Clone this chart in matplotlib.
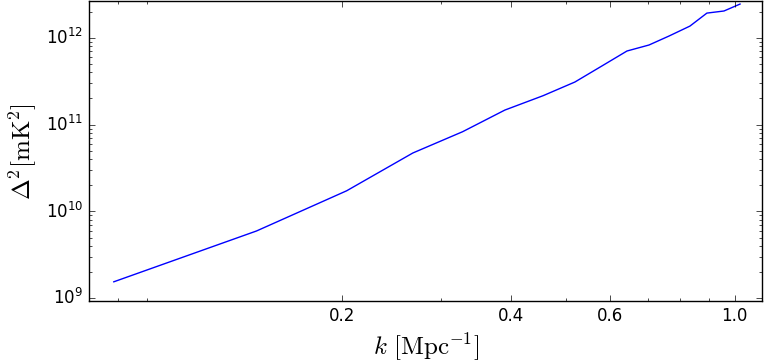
import numpy as np
import matplotlib
matplotlib.use("Agg")
import matplotlib.pyplot as plt
from matplotlib.ticker import NullFormatter

plt.style.use("classic")

# power spectrum
k = [0.0786, 0.141, 0.204, 0.2675, 0.328, 0.390, 0.456, 0.5195, 0.580,
     0.643, 0.7036, 0.7637, 0.832, 0.892, 0.9566, 1.0217]
delta2 = [1.55e9, 5.96e9, 1.73e10, 4.71e10, 8.28e10, 1.47e11, 2.15e11,
          3.09e11, 4.72e11, 7.03e11, 8.24e11, 1.045e12, 1.36e12, 1.92e12,
          2.03e12, 2.44e12]

xticks = [0.2, 0.4, 0.6, 1.0]
xticklabels = ["0.2", "0.4", "0.6", "1.0"]

fig = plt.figure(figsize=(7.65, 3.61), dpi=100, facecolor="w")
ax = fig.add_axes([0.1163, 0.166, 0.8804, 0.831])

ax.plot(k, delta2, color="b", lw=1)
ax.set_xscale("log")
ax.set_yscale("log")
ax.set_xlim(0.0710, 1.12)
ax.set_ylim(9.3e8, 2.64e12)

ax.set_xticks(xticks)
ax.set_xticklabels(xticklabels)
ax.xaxis.set_minor_formatter(NullFormatter())

ax.set_xlabel(r"$k\ [\mathrm{Mpc}^{-1}]$", fontsize=18)
ax.set_ylabel(r"$\Delta^2 [\mathrm{mK}^2]$", fontsize=18)

fig.savefig("out.png", dpi=100, facecolor="w")
